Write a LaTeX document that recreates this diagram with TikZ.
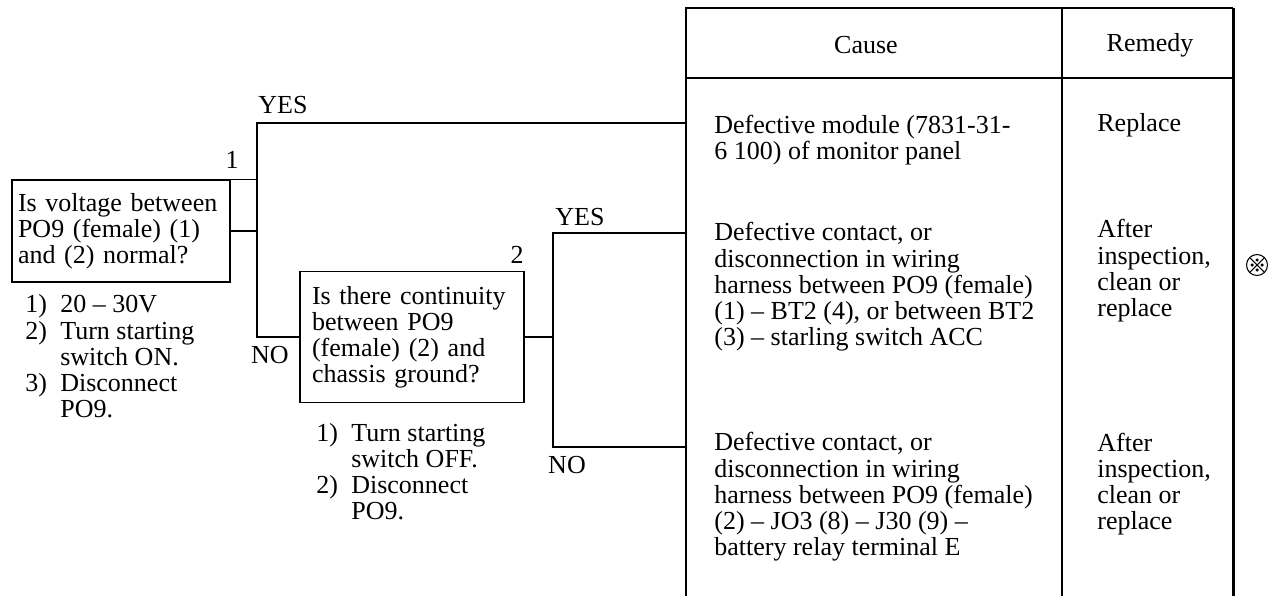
\documentclass[tikz,border=0pt]{standalone}
\usepackage{fontspec}
\setmainfont{Liberation Serif}
\usetikzlibrary{positioning,calc}
\newcommand{\chartfont}{\fontsize{14.8}{14.8}\selectfont}
\newcommand{\itm}[1]{\makebox[0.7cm][l]{#1}}
\tikzstyle{question} = [rectangle, draw, line width=0.8pt, align=left, inner sep=0pt]
\tikzstyle{wire} = [line width=0.9pt]
\tikzstyle{frame} = [line width=1.2pt]
\tikzstyle{rule} = [line width=0.7pt]
% placed at the baseline of the last line
\tikzstyle{celltext} = [anchor=base west, align=left, inner sep=0pt]
\tikzstyle{flowtag} = [inner sep=0pt]

\begin{document}
\begin{tikzpicture}[x=0.02cm, y=-0.02cm, font=\chartfont]
\useasboundingbox (0,0) rectangle (1268,596);

% Check 1
\node[question, minimum width=4.36cm, minimum height=2.04cm, text width=4.12cm] (voltcheck) at (121,231) {
Is voltage between\\
PO9 (female) (1)\\
and (2) normal?
};
\node[celltext] (voltnote) at (25,417) {
\itm{1)}20 -- 30V\\
\itm{2)}Turn starting\\
\itm{}switch ON.\\
\itm{3)}Disconnect\\
\itm{}PO9.
};
\node[flowtag] (num1) at (232,160) {1};

% Check 2
\node[question, minimum width=4.48cm, minimum height=2.62cm, text width=4.0cm] (contcheck) at (412,337) {
Is there continuity\\
between PO9\\
(female) (2) and\\
chassis ground?
};
\node[celltext] (contnote) at (316,519) {
\itm{1)}Turn starting\\
\itm{}switch OFF.\\
\itm{2)}Disconnect\\
\itm{}PO9.
};
\node[flowtag] (num2) at (517,255) {2};

% Table frame
\draw[frame] (686,596) -- (686,8) -- (1233,8);
\draw[frame, line width=1.7pt] (1233,8) -- (1233,596);
\draw[frame] (686,78) -- (1233,78);
\draw[rule] (1062,8) -- (1062,596);
\node (causehead) at (866,45) {Cause};
\node (remedyhead) at (1150,45) {Remedy};

% Causes
\node[celltext] (cause1) at (714,159) {
Defective module (7831-31-\\
6 100) of monitor panel
};
\node[celltext] (cause2) at (714,345) {
Defective contact, or\\
disconnection in wiring\\
harness between PO9 (female)\\
(1) -- BT2 (4), or between BT2\\
(3) -- starling switch ACC
};
\node[celltext] (cause3) at (714,555) {
Defective contact, or\\
disconnection in wiring\\
harness between PO9 (female)\\
(2) -- JO3 (8) -- J30 (9) --\\
battery relay terminal E
};

% Remedies
\node[celltext] (remedy1) at (1097,131) {Replace};
\node[celltext] (remedy2) at (1097,316) {
After\\
inspection,\\
clean or\\
replace
};
\node[celltext] (remedy3) at (1097,529) {
After\\
inspection,\\
clean or\\
replace
};

% Connector symbol
\coordinate (plug) at (1257,265);
\draw[line width=0.6pt] (plug) circle[radius=0.21cm];
\draw[line width=0.6pt] ($(plug)+(-7,-7)$) -- ($(plug)+(7,7)$);
\draw[line width=0.6pt] ($(plug)+(-7,7)$) -- ($(plug)+(7,-7)$);
\foreach \dx/\dy in {0/-5,5/0,0/5,-5/0}
  \fill ($(plug)+(\dx,\dy)$) circle[radius=0.035cm];

% Branches
\coordinate (tab1) at (686,123);
\coordinate (tab2) at (686,233);
\coordinate (tab3) at (686,447);
\coordinate (fork1) at (257,231);
\coordinate (fork2) at (553,337);

\draw[wire] (voltcheck.north east) -- (voltcheck.north east -| fork1);
\draw[wire] (voltcheck.east) -- (fork1);
\draw[wire] (tab1) -| (fork1) |- (contcheck.west);
\node[flowtag] (yes1) at (283,105) {YES};
\node[flowtag] (no1) at (270,355) {NO};

\draw[wire] (contcheck.east) -- (fork2);
\draw[wire] (tab2) -| (fork2) |- (tab3);
\node[flowtag] (yes2) at (580,217) {YES};
\node[flowtag] (no2) at (567,465) {NO};
\end{tikzpicture}
\end{document}
